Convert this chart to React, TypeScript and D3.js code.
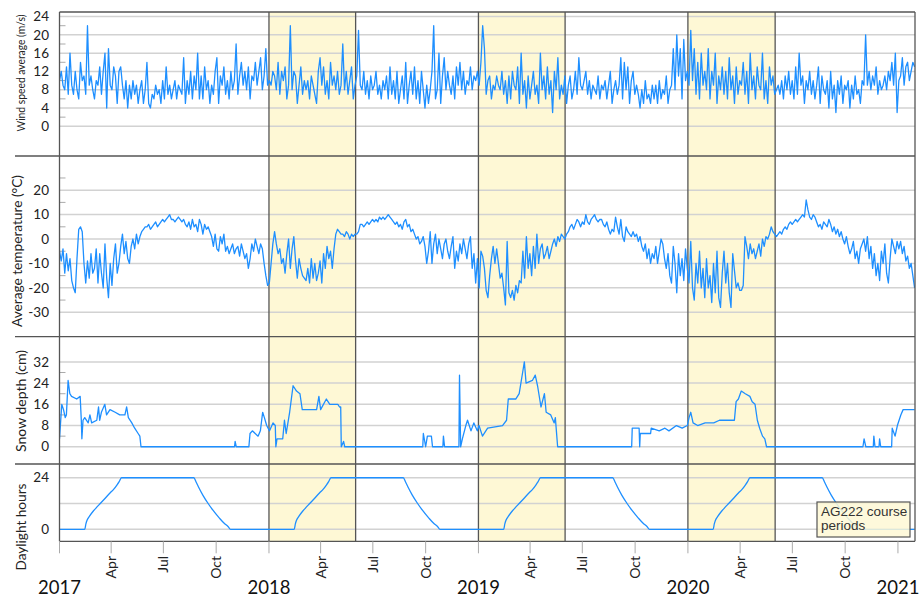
import React from "react";
import * as d3 from "d3";

// ---------- DATA ----------
const dataStart = "2017-01-01";
const dataEnd = "2021-01-30";
const axisStart = "2017-01-01";
const axisEnd = "2021-01-30T17:00:00Z";

// wind speed average (m/s), ~3-day samples, 10 per month, Jan 2017 - Jan 2021
const windSpeed = [
  10,12,9,8,13,7,16,9,7,12, 8,6,14,10,11,7,22,9,11,8, 6,10,9,13,7,12,16,4,17,9, 8,13,11,5,12,13,9,6,10,4,
  9,6,10,7,9,5,8,10,5,8, 14,5,4,7,6,9,7,8,5,10, 6,13,7,9,6,8,10,6,9,8, 7,15,5,10,7,12,6,11,8,16,
  6,11,6,13,8,10,5,9,7,12, 15,5,11,9,13,7,10,6,12,8, 10,18,7,11,14,9,12,8,13,6, 11,10,14,9,12,15,8,11,17,9,
  10,9,12,11,8,14,7,12,10,13, 6,9,22,8,12,11,5,9,13,7, 10,8,10,6,11,9,7,5,12,15, 9,13,7,10,6,14,9,11,8,12,
  7,9,18,8,12,7,10,13,6,9, 11,21,9,8,12,7,10,6,11,8, 9,12,7,9,6,10,8,11,6,13, 7,10,6,12,5,8,11,6,14,5,
  9,12,7,13,6,10,5,12,8,4, 9,5,8,12,22,6,8,16,5,11, 15,8,12,9,7,11,6,13,9,14, 8,12,7,10,9,13,8,11,10,12,
  9,14,22,17,7,10,11,6,9,8, 11,9,8,12,7,10,5,11,6,12, 9,8,13,5,16,7,10,4,11,6, 9,12,7,9,5,16,8,11,6,13,
  7,10,3,12,8,15,6,9,7,11, 5,9,11,6,8,12,7,15,9,8, 10,12,7,10,6,9,8,7,11,6, 9,8,10,6,9,12,5,8,10,7,
  9,15,6,14,8,13,5,10,12,7, 9,7,4,8,5,10,6,7,5,9, 6,9,5,10,6,8,7,11,5,8, 9,17,8,20,11,17,6,19,10,12,
  9,21,10,17,7,14,6,16,9,12, 8,17,6,12,9,16,5,11,8,13, 7,12,6,15,8,11,5,13,7,10, 9,14,7,12,5,16,8,11,6,13,
  9,8,16,6,10,5,13,9,11,7, 8,9,7,10,6,11,8,12,7,10, 6,13,7,16,9,11,5,10,8,12, 7,10,6,9,13,5,11,8,7,10,
  4,12,6,9,3,10,7,11,5,9, 8,10,4,9,6,11,7,8,5,10, 9,20,9,12,8,11,9,13,7,10, 8,9,11,8,12,10,14,9,16,3,
  10,11,15,9,13,14,10,12,14,13,
];

// average temperature (°C), same sampling
const temperature = [
  -5,-9,-4,-14,-6,-13,-8,-17,-20,-22, -8,4,5,3,-10,-18,-9,-16,-6,-14, -12,-4,-18,-6,-14,-20,-2,-16,-24,-10, -19,-8,-2,-14,-10,-3,2,-6,-1,-8,
  -10,-3,0,-4,2,-2,1,3,4,5, 5,6,4,5,6,7,5,6,7,8, 7,8,9,10,8,8,7,8,9,8, 7,8,6,5,7,4,8,5,6,3,
  8,6,2,6,4,5,3,1,-3,2, -4,-5,1,-2,2,-5,-3,-6,-4,-2, -6,-4,-3,-7,-2,-5,-8,-6,-12,-8, -2,-5,0,-3,-6,-2,-4,-10,-15,-19,
  -18,-10,-2,3,-2,-6,-4,-10,-8,-14, -6,0,-12,-4,1,-9,-16,-8,-12,-15, -16,-17,-12,-18,-8,-16,-10,-17,-14,-9, -18,-6,-12,-3,-8,-5,-12,-4,2,4,
  3,2,2,1,3,2,0,2,1,2, 2,3,6,6,5,6,7,6,7,8, 7,8,7,9,8,9,8,9,10,9, 8,7,6,7,5,6,4,7,8,5,
  6,3,4,2,0,1,-2,-1,1,-3, -10,-5,3,-10,-2,2,-6,0,-4,-8, -2,0,-5,-8,-3,1,-12,-5,-9,-2, -6,0,-4,-8,-2,1,-12,-6,-18,-8,
  -20,-5,-7,-12,-21,-24,-15,-8,-3,-10, -4,-10,-16,-14,-20,-27,-1,-22,-24,-21, -25,-19,-22,-17,-18,-5,-16,1,-12,-6, -15,-3,-12,2,-10,-4,-2,-8,-6,-3,
  -8,-5,-2,0,-3,1,-1,2,1,0, 2,3,5,6,4,6,8,7,5,7, 6,10,7,6,8,9,10,8,7,8, 8,6,5,7,4,2,4,3,9,5,
  2,8,1,-1,5,3,2,1,3,1, 2,-1,1,-3,-5,-2,-8,-4,-10,-6, -8,-3,-10,-5,0,-2,-8,-12,-6,-15, -18,-3,-10,-22,-6,-15,-8,-17,-4,-12,
  -18,-1,-20,-25,-10,-18,-5,-20,-12,-24, -8,-20,-15,-26,-10,-22,-5,-24,-28,-14, -5,-18,-10,-22,-28,-6,-13,-20,-18,-21, -21,-19,1,-3,-8,-2,-6,-4,-8,-5,
  -2,-7,0,-3,1,0,2,5,3,2, 1,2,3,2,4,5,4,6,7,6, 7,8,7,8,9,10,9,16,12,9, 8,10,9,7,5,6,4,7,6,5,
  8,6,3,5,2,4,1,3,0,-2, 1,-3,-6,-4,-1,-8,-5,-10,-4,-2, 0,-5,1,-8,-3,-12,-6,-15,-10,-17, -5,-10,-2,-14,-18,-8,0,-3,-6,-1,
  -4,-1,-6,-3,-9,-7,-12,-10,-15,-20,
];

// snow depth (cm): days since 2017-01-01 and depth
const snowDay = [
  0,4,7,10,12,15,18,21,30,36,38,39,41,44,50,53,56,65,68,70,73,79,82,88,97,105,114,117,120,126,131,137,140,142,
  305,306,308,330,332,336,346,350,354,357,361,366,372,376,377,379,389,392,395,401,404,407,413,419,423,448,452,455,465,471,485,488,490,491,495,497,
  633,634,638,641,648,650,668,669,671,696,697,699,702,708,711,717,722,728,731,737,746,772,779,782,795,801,807,810,813,824,829,833,839,845,848,856,862,864,868,
  997,998,1010,1011,1012,1030,1031,1045,1055,1062,1075,1085,1094,1097,1100,1104,1112,1125,1140,1150,1165,1176,1179,1183,1188,1195,1203,1207,1212,1216,1220,1225,1229,1232,
  1400,1402,1405,1418,1419,1421,1428,1429,1431,1450,1451,1456,1460,1466,1470,1490,
];
const snowDepth = [
  3,16,14,11,12,25,20,19,18,19,10,3,10,11,9,12,9,10,15,10,13,16,12,14,13,12,12,15,11,9,7,5,4,0,
  0,2,0,0,5,6,4,6,13,11,8,6,9,8,0,3,3,10,5,13,18,23,21,20,14,14,19,14,18,16,16,15,15,0,2,0,
  0,5,0,4,4,0,0,4,0,0,27,0,3,8,10,6,9,6,8,4,7,8,10,18,18,20,28,32,24,25,27,23,15,20,13,12,9,11,0,
  0,7,7,0,5,5,7,6,7,6,8,7,8,11,13,9,8,9,9,10,10,10,17,18,21,20,19,17,16,10,7,4,3,0,
  0,3,0,0,4,0,0,3,0,0,7,4,8,12,14,14,
];

// daylight hours: one-year profile (day of year, hours)
const daylightDoy = [0,44,46,48,52,59,65,71,78,88,95,100,104,108,234,238,242,250,259,267,279,287,294,298,365];
const daylightHours = [0,0,2.5,4.2,6,8.5,10.3,12,14,16.9,18.8,20.6,22.2,24,24,22,19.8,15.8,12,9,5.1,2.8,1.2,0,0];
const daylightYears = [2017, 2018, 2019, 2020];

const courseStarts = ["2018-01-01", "2019-01-01", "2020-01-01"];
const courseEnds = ["2018-06-01", "2019-06-01", "2020-06-01"];

const windTicks = [0, 4, 8, 12, 16, 20, 24];
const windMinor = [2, 6, 10, 14, 18, 22];
const tempTicks = [-30, -20, -10, 0, 10, 20];
const tempMinor = [-25, -15, -5, 5, 15, 25];
const snowTicks = [0, 8, 16, 24, 32];
const snowMinor = [4, 12, 20, 28];
const dayTicks = [0, 24];
const dayGrid = [0, 12, 24];

const monthNames = ["Apr", "Jul", "Oct"];
const yearLabels = ["2017", "2018", "2019", "2020", "2021"];

// ---------- LAYOUT ----------
const W = 919, H = 596;
const L = 59.5, R = 915;
const TOP = 12;
const Y1 = 156, Y2 = 336.7, Y3 = 464, BOT = 541.3;
const BLUE = "#1e8fff";
const FRAME = "#555";
const GRID = "#d2d2d2";
const SHADE = "#fef8d5";
const FONT = "Lato, 'Open Sans', sans-serif";

const utc = (s: string) => new Date(s.length <= 10 ? s + "T00:00:00Z" : s);
const DAY = 86400000;

export default function App() {
  const x = d3.scaleUtc().domain([utc(axisStart), utc(axisEnd)]).range([L, R]);
  const yWind = d3.scaleLinear().domain([-6.5, 25]).range([Y1, TOP]);
  const yTemp = d3.scaleLinear().domain([-40, 34]).range([Y2, Y1]);
  const ySnow = d3.scaleLinear().domain([-6.5, 41.5]).range([Y3, Y2]);
  const yDay = d3.scaleLinear().domain([-5.6, 30.4]).range([BOT, Y3]);

  const t0 = utc(dataStart).getTime();
  const t1 = utc(dataEnd).getTime();
  const idxToTime = d3.scaleLinear().domain([0, windSpeed.length - 1]).range([t0, t1]);

  const windPath = d3.line<number>()
    .x((_, i) => x(new Date(idxToTime(i))))
    .y((v) => yWind(v))(windSpeed) || "";
  const tempPath = d3.line<number>()
    .x((_, i) => x(new Date(idxToTime(i))))
    .y((v) => yTemp(v))(temperature) || "";
  const snowPath = d3.line<number>()
    .x((_, i) => x(new Date(t0 + snowDay[i] * DAY)))
    .y((v) => ySnow(v))(snowDepth) || "";

  const dayPts: [Date, number][] = [];
  daylightYears.forEach((yr) => {
    const base = Date.UTC(yr, 0, 1);
    daylightDoy.forEach((d, i) => {
      if (i === daylightDoy.length - 1 && yr !== daylightYears[daylightYears.length - 1]) return;
      dayPts.push([new Date(base + d * DAY), daylightHours[i]]);
    });
  });
  dayPts.push([utc(dataEnd), 0]);
  const dayPath = d3.line<[Date, number]>()
    .x((d) => x(d[0]))
    .y((d) => yDay(d[1]))
    .curve(d3.curveMonotoneX)(dayPts) || "";

  const quarterTicks = d3.utcMonth.every(3)!.range(utc("2017-01-01"), utc("2021-01-02"));

  const panels = [
    { id: "p1", y0: TOP, y1: Y1 },
    { id: "p2", y0: Y1, y1: Y2 },
    { id: "p3", y0: Y2, y1: Y3 },
    { id: "p4", y0: Y3, y1: BOT },
  ];

  const gridLines = (vals: number[], s: d3.ScaleLinear<number, number>, key: string) =>
    vals.map((v) => (
      <line key={key + v} x1={L} x2={R} y1={s(v)} y2={s(v)} stroke={GRID} strokeWidth={1.5} />
    ));
  const minorTicks = (vals: number[], s: d3.ScaleLinear<number, number>, key: string) =>
    vals.map((v) => (
      <line key={key + v} x1={L} x2={L + 6} y1={s(v)} y2={s(v)} stroke="#aaa" strokeWidth={1} />
    ));
  const tickLabels = (vals: number[], s: d3.ScaleLinear<number, number>, key: string) =>
    vals.map((v) => (
      <text key={key + v} x={49} y={s(v)} dy="0.35em" textAnchor="end" fontSize={13.5} fill="#222">
        {v}
      </text>
    ));

  return (
    <svg width={W} height={H} style={{ position: "absolute", left: 0, top: 0, background: "#fff" }} fontFamily={FONT}>
      <defs>
        {panels.map((p) => (
          <clipPath id={"clip-" + p.id} key={p.id}>
            <rect x={L} y={p.y0} width={R - L} height={p.y1 - p.y0} />
          </clipPath>
        ))}
      </defs>
      <rect x={0} y={0} width={W} height={H} fill="#fff" />

      {/* course period shading */}
      {courseStarts.map((s, i) => (
        <rect key={"sh" + i} x={x(utc(s))} y={TOP} width={x(utc(courseEnds[i])) - x(utc(s))} height={BOT - TOP} fill={SHADE} />
      ))}

      {/* gridlines */}
      {gridLines(windTicks, yWind, "gw")}
      {gridLines(tempTicks, yTemp, "gt")}
      {gridLines(snowTicks, ySnow, "gs")}
      {gridLines(dayGrid, yDay, "gd")}
      {minorTicks(windMinor, yWind, "mw")}
      {minorTicks(tempMinor, yTemp, "mt")}
      {minorTicks(snowMinor, ySnow, "ms")}

      {/* shade borders */}
      {courseStarts.map((s, i) => (
        <g key={"sb" + i}>
          <line x1={x(utc(s))} x2={x(utc(s))} y1={TOP} y2={BOT} stroke={FRAME} strokeWidth={1.3} />
          <line x1={x(utc(courseEnds[i]))} x2={x(utc(courseEnds[i]))} y1={TOP} y2={BOT} stroke={FRAME} strokeWidth={1.3} />
        </g>
      ))}

      {/* series */}
      <path d={windPath} fill="none" stroke={BLUE} strokeWidth={1.3} strokeLinejoin="round" clipPath="url(#clip-p1)" />
      <path d={tempPath} fill="none" stroke={BLUE} strokeWidth={1.3} strokeLinejoin="round" clipPath="url(#clip-p2)" />
      <path d={snowPath} fill="none" stroke={BLUE} strokeWidth={1.3} strokeLinejoin="round" clipPath="url(#clip-p3)" />
      <path d={dayPath} fill="none" stroke={BLUE} strokeWidth={1.3} clipPath="url(#clip-p4)" />

      {/* frame */}
      <line x1={L} x2={R} y1={TOP} y2={TOP} stroke={FRAME} strokeWidth={1.3} />
      <line x1={15} x2={R} y1={Y1} y2={Y1} stroke={FRAME} strokeWidth={1.3} />
      <line x1={15} x2={R} y1={Y2} y2={Y2} stroke={FRAME} strokeWidth={1.3} />
      <line x1={15} x2={R} y1={Y3} y2={Y3} stroke={FRAME} strokeWidth={1.3} />
      <line x1={L} x2={R} y1={BOT} y2={BOT} stroke={FRAME} strokeWidth={1.3} />
      <line x1={L} x2={L} y1={TOP} y2={BOT} stroke={FRAME} strokeWidth={1.3} />
      <line x1={R} x2={R} y1={TOP} y2={BOT} stroke={FRAME} strokeWidth={1.3} />

      {/* y tick labels */}
      {tickLabels(windTicks, yWind, "lw")}
      {tickLabels(tempTicks, yTemp, "lt")}
      {tickLabels(snowTicks, ySnow, "ls")}
      {tickLabels(dayTicks, yDay, "ld")}

      {/* y titles */}
      <text transform="translate(21,73) rotate(-90)" dy="0.35em" textAnchor="middle" fontSize={12} textLength={117} lengthAdjust="spacingAndGlyphs" fill="#222">
        Wind speed average (m/s)
      </text>
      <text transform="translate(17,251) rotate(-90)" dy="0.35em" textAnchor="middle" fontSize={14} textLength={152} lengthAdjust="spacingAndGlyphs" fill="#222">
        Average temperature (°C)
      </text>
      <text transform="translate(21,401) rotate(-90)" dy="0.35em" textAnchor="middle" fontSize={14} textLength={102} lengthAdjust="spacingAndGlyphs" fill="#222">
        Snow depth (cm)
      </text>
      <text transform="translate(21,527) rotate(-90)" dy="0.35em" textAnchor="middle" fontSize={14} textLength={87} lengthAdjust="spacingAndGlyphs" fill="#222">
        Daylight hours
      </text>

      {/* x axis */}
      {quarterTicks.map((d, i) => (
        <line key={"xt" + i} x1={x(d)} x2={x(d)} y1={BOT} y2={BOT + 12} stroke="#aaa" strokeWidth={1} />
      ))}
      {quarterTicks.filter((d) => d.getUTCMonth() !== 0).map((d, i) => (
        <text key={"xm" + i} transform={`translate(${x(d)},556) rotate(-90)`} dy="0.35em" textAnchor="end" fontSize={14} fill="#222">
          {monthNames[d.getUTCMonth() / 3 - 1]}
        </text>
      ))}
      {yearLabels.map((yl) => (
        <text key={"yl" + yl} x={x(utc(yl + "-01-01"))} y={594} textAnchor="middle" fontSize={18.5} fill="#111">
          {yl}
        </text>
      ))}

      {/* legend */}
      <rect x={817} y={502} width={93} height={35} fill={SHADE} fillOpacity={0.85} stroke={FRAME} strokeWidth={1.2} />
      <text x={821} y={516} fontSize={13.5} fontFamily="'Liberation Sans', Arial, sans-serif" fill="#333">AG222 course</text>
      <text x={821} y={530} fontSize={13.5} fontFamily="'Liberation Sans', Arial, sans-serif" fill="#333">periods</text>
    </svg>
  );
}
